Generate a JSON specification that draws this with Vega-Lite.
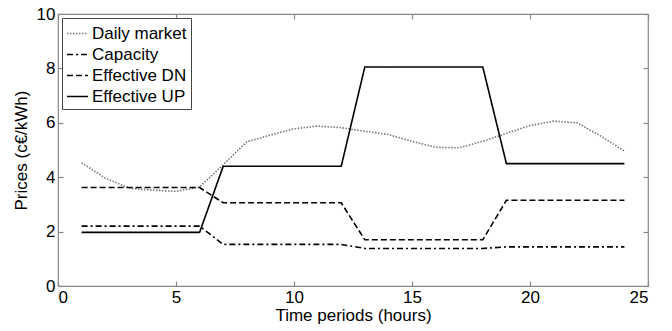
{
  "$schema": "https://vega.github.io/schema/vega-lite/v6.json",
  "width": 590,
  "height": 272,
  "autosize": {"type": "none"},
  "padding": {"left": 58, "top": 14, "right": 24, "bottom": 45},
  "background": "white",
  "config": {
    "font": "Liberation Sans",
    "view": {"stroke": "#888", "strokeWidth": 1.2},
    "axis": {"grid": false, "domain": false, "tickColor": "#888", "tickWidth": 1.2, "labelColor": "black", "titleColor": "black", "labelFont": "Liberation Sans", "titleFont": "Liberation Sans", "labelFontSize": 17, "titleFontSize": 17, "titleFontWeight": "normal"},
    "legend": {"orient": "top-left", "offset": 4, "padding": 4, "strokeColor": "#444", "fillColor": "white", "labelFont": "Liberation Sans", "labelFontSize": 17, "labelColor": "black", "symbolType": "stroke", "symbolSize": 441, "rowPadding": 1, "labelOffset": 3, "cornerRadius": 0}
  },
  "data": {"values": [
    {"hour": 1, "series": "Daily market", "price": 4.53},
    {"hour": 2, "series": "Daily market", "price": 3.97},
    {"hour": 3, "series": "Daily market", "price": 3.6},
    {"hour": 4, "series": "Daily market", "price": 3.52},
    {"hour": 5, "series": "Daily market", "price": 3.48},
    {"hour": 6, "series": "Daily market", "price": 3.64},
    {"hour": 7, "series": "Daily market", "price": 4.46},
    {"hour": 8, "series": "Daily market", "price": 5.3},
    {"hour": 9, "series": "Daily market", "price": 5.55},
    {"hour": 10, "series": "Daily market", "price": 5.78},
    {"hour": 11, "series": "Daily market", "price": 5.88},
    {"hour": 12, "series": "Daily market", "price": 5.82},
    {"hour": 13, "series": "Daily market", "price": 5.69},
    {"hour": 14, "series": "Daily market", "price": 5.57},
    {"hour": 15, "series": "Daily market", "price": 5.32},
    {"hour": 16, "series": "Daily market", "price": 5.1},
    {"hour": 17, "series": "Daily market", "price": 5.08},
    {"hour": 18, "series": "Daily market", "price": 5.32},
    {"hour": 19, "series": "Daily market", "price": 5.61},
    {"hour": 20, "series": "Daily market", "price": 5.9},
    {"hour": 21, "series": "Daily market", "price": 6.06},
    {"hour": 22, "series": "Daily market", "price": 6.0},
    {"hour": 23, "series": "Daily market", "price": 5.51},
    {"hour": 24, "series": "Daily market", "price": 4.96},
    {"hour": 1, "series": "Capacity", "price": 2.2},
    {"hour": 6, "series": "Capacity", "price": 2.2},
    {"hour": 7, "series": "Capacity", "price": 1.53},
    {"hour": 12, "series": "Capacity", "price": 1.53},
    {"hour": 13, "series": "Capacity", "price": 1.38},
    {"hour": 18, "series": "Capacity", "price": 1.38},
    {"hour": 19, "series": "Capacity", "price": 1.44},
    {"hour": 24, "series": "Capacity", "price": 1.44},
    {"hour": 1, "series": "Effective DN", "price": 3.62},
    {"hour": 6, "series": "Effective DN", "price": 3.62},
    {"hour": 7, "series": "Effective DN", "price": 3.06},
    {"hour": 12, "series": "Effective DN", "price": 3.06},
    {"hour": 13, "series": "Effective DN", "price": 1.7},
    {"hour": 18, "series": "Effective DN", "price": 1.7},
    {"hour": 19, "series": "Effective DN", "price": 3.15},
    {"hour": 24, "series": "Effective DN", "price": 3.15},
    {"hour": 1, "series": "Effective UP", "price": 1.97},
    {"hour": 6, "series": "Effective UP", "price": 1.97},
    {"hour": 7, "series": "Effective UP", "price": 4.4},
    {"hour": 12, "series": "Effective UP", "price": 4.4},
    {"hour": 13, "series": "Effective UP", "price": 8.05},
    {"hour": 18, "series": "Effective UP", "price": 8.05},
    {"hour": 19, "series": "Effective UP", "price": 4.5},
    {"hour": 24, "series": "Effective UP", "price": 4.5}
  ]},
  "layer": [
    {
      "mark": {"type": "line", "opacity": 0},
      "encoding": {
        "x": {"field": "hour", "type": "quantitative", "scale": {"domain": [0, 25], "nice": false}, "axis": {"orient": "top", "values": [0, 5, 10, 15, 20, 25], "tickSize": -5, "labels": false, "title": null}},
        "y": {"field": "price", "type": "quantitative", "scale": {"domain": [0, 10], "nice": false}, "axis": {"orient": "right", "values": [0, 2, 4, 6, 8, 10], "tickSize": -5, "labels": false, "title": null}},
        "detail": {"field": "series"}
      }
    },
    {
      "mark": {"type": "line", "strokeCap": "butt"},
      "encoding": {
        "x": {"field": "hour", "type": "quantitative", "scale": {"domain": [0, 25], "nice": false}, "axis": {"orient": "bottom", "values": [0, 5, 10, 15, 20, 25], "tickSize": -5, "labelPadding": 8, "title": "Time periods (hours)", "titlePadding": 2}},
        "y": {"field": "price", "type": "quantitative", "scale": {"domain": [0, 10], "nice": false}, "axis": {"orient": "left", "values": [0, 2, 4, 6, 8, 10], "tickSize": -5, "labelPadding": 8, "title": "Prices (c€/kWh)", "titlePadding": 6}},
        "color": {"field": "series", "type": "nominal", "sort": ["Daily market", "Capacity", "Effective DN", "Effective UP"], "scale": {"domain": ["Daily market", "Capacity", "Effective DN", "Effective UP"], "range": ["#777777", "black", "black", "black"]}, "legend": {"title": null}},
        "strokeDash": {"field": "series", "type": "nominal", "sort": ["Daily market", "Capacity", "Effective DN", "Effective UP"], "scale": {"domain": ["Daily market", "Capacity", "Effective DN", "Effective UP"], "range": [[1.5, 1.5], [6, 3, 2, 3], [6, 3], [1, 0]]}, "legend": {"title": null}},
        "strokeWidth": {"field": "series", "type": "nominal", "sort": ["Daily market", "Capacity", "Effective DN", "Effective UP"], "scale": {"domain": ["Daily market", "Capacity", "Effective DN", "Effective UP"], "range": [1.6, 1.6, 2, 2.5]}, "legend": {"title": null}}
      }
    }
  ],
  "resolve": {"axis": {"x": "independent", "y": "independent"}}
}
